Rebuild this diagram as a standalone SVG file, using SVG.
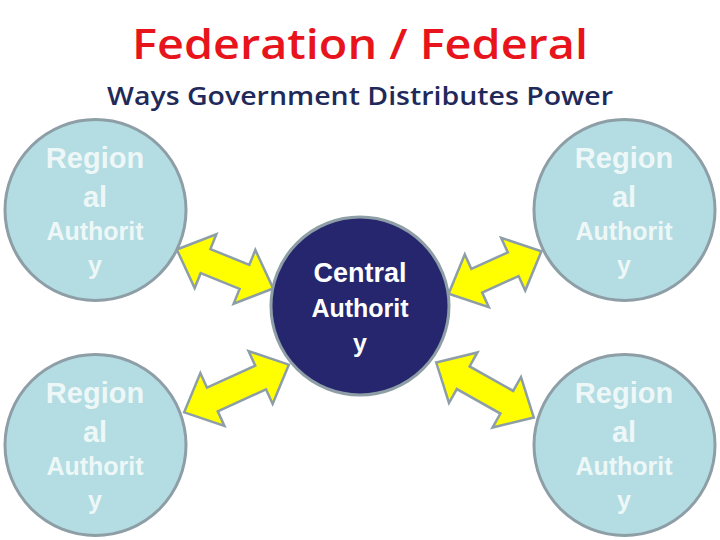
<svg xmlns="http://www.w3.org/2000/svg" width="720" height="540" viewBox="0 0 720 540">
<style>
.reg{fill:#b3dde2;stroke:#8e9ea6;stroke-width:3}
.cen{fill:#25266e;stroke:#8e9ea6;stroke-width:3}
.t{font-family:"Liberation Sans",Arial,sans-serif;font-weight:bold;text-anchor:middle;fill:#fff}
.rt{fill:#eef7f7}
.arr{fill:#ffff00;stroke:#8e9ea6;stroke-width:2.5;stroke-linejoin:miter}
</style>
<rect width="720" height="540" fill="#fff"/>
<text x="360" y="59" font-family="'Open Sans','Liberation Sans',sans-serif" font-weight="600" font-size="42" fill="#e8141c" text-anchor="middle" textLength="456" lengthAdjust="spacingAndGlyphs">Federation / Federal</text>
<text x="360" y="105" font-family="'Open Sans','Liberation Sans',sans-serif" font-weight="600" font-size="25" fill="#1f2a5a" text-anchor="middle" textLength="506" lengthAdjust="spacingAndGlyphs">Ways Government Distributes Power</text>
<g id="connectors">
<polygon class="arr" transform="translate(225,269) rotate(22)" points="-52,0 -21,-29 -21,-13 21,-13 21,-29 52,0 21,29 21,13 -21,13 -21,29"/>
<polygon class="arr" transform="translate(495,272.5) rotate(-24.5)" points="-51,0 -20,-29 -20,-13 20,-13 20,-29 51,0 20,29 20,13 -20,13 -20,29"/>
<polygon class="arr" transform="translate(236.5,388.5) rotate(-24.5)" points="-57.5,0 -26.5,-29 -26.5,-13 26.5,-13 26.5,-29 57.5,0 26.5,29 26.5,13 -26.5,13 -26.5,29"/>
<polygon class="arr" transform="translate(485,390) rotate(29.4)" points="-56,0 -25,-29 -25,-13 25,-13 25,-29 56,0 25,29 25,13 -25,13 -25,29"/>
</g>
<g id="central"><circle class="cen" cx="360" cy="306" r="89"/>
<text class="t" x="360" y="282" font-size="27">Central</text>
<text class="t" x="360" y="317" font-size="25">Authorit</text>
<text class="t" x="360" y="352" font-size="25">y</text></g>
<g id="region-tl"><circle class="reg" cx="95.5" cy="210" r="90.5"/>
<text class="t rt" x="95" y="168" font-size="29">Region</text><text class="t rt" x="95" y="207" font-size="29">al</text>
<text class="t rt" x="95" y="240" font-size="25">Authorit</text><text class="t rt" x="95" y="274" font-size="25">y</text></g>
<g id="region-tr"><circle class="reg" cx="624.5" cy="210" r="90.5"/>
<text class="t rt" x="624" y="168" font-size="29">Region</text><text class="t rt" x="624" y="207" font-size="29">al</text>
<text class="t rt" x="624" y="240" font-size="25">Authorit</text><text class="t rt" x="624" y="274" font-size="25">y</text></g>
<g id="region-bl"><circle class="reg" cx="95.5" cy="445" r="90.5"/>
<text class="t rt" x="95" y="403" font-size="29">Region</text><text class="t rt" x="95" y="442" font-size="29">al</text>
<text class="t rt" x="95" y="475" font-size="25">Authorit</text><text class="t rt" x="95" y="509" font-size="25">y</text></g>
<g id="region-br"><circle class="reg" cx="624.5" cy="445" r="90.5"/>
<text class="t rt" x="624" y="403" font-size="29">Region</text><text class="t rt" x="624" y="442" font-size="29">al</text>
<text class="t rt" x="624" y="475" font-size="25">Authorit</text><text class="t rt" x="624" y="509" font-size="25">y</text></g>
</svg>
